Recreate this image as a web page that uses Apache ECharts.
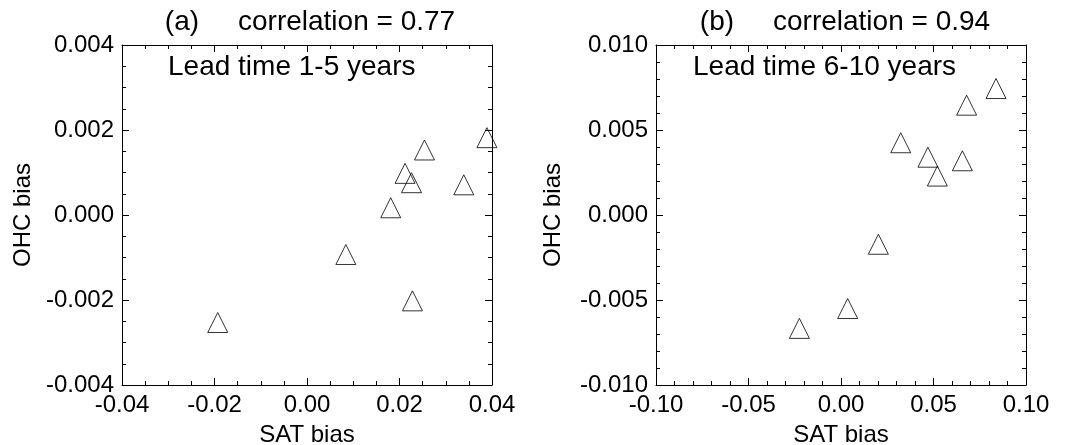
<!DOCTYPE html>
<html>
<head>
<meta charset="utf-8">
<script src="https://cdn.jsdelivr.net/npm/echarts@6/dist/echarts.min.js"></script>
<style>
  html, body { margin: 0; padding: 0; background: #fff; }
  #main { width: 1069px; height: 445px; }
</style>
</head>
<body>
<div id="main"></div>
<script>
// panel (a): lead time 1-5 years
let satA = [-0.0193, 0.0084, 0.0181, 0.0212, 0.0226, 0.0254, 0.0339, 0.0389, 0.0228];
let ohcA = [-0.00253, -0.00093, 0.00017, 0.00098, 0.00076, 0.00153, 0.00071, 0.00182, -0.00202];

// panel (b): lead time 6-10 years
let satB = [-0.0225, 0.0036, 0.0202, 0.0323, 0.0470, 0.0521, 0.0656, 0.0679, 0.0838];
let ohcB = [-0.00667, -0.00550, -0.00172, 0.00425, 0.00340, 0.00229, 0.00319, 0.00646, 0.00744];

let titles = ['(a)     correlation = 0.77', '(b)     correlation = 0.94'];
let leads = ['Lead time 1-5 years', 'Lead time 6-10 years'];

let font = 'Liberation Sans, Arial, Helvetica, sans-serif';

let pairs = (xs, ys) => xs.map((x, i) => [x, ys[i]]);

let chart = echarts.init(document.getElementById('main'));

let axisBase = function(opt) {
    let a = {
        type: 'value',
        gridIndex: opt.grid,
        position: opt.position,
        min: opt.min,
        max: opt.max,
        interval: opt.interval,
        splitLine: { show: false },
        axisLine: { show: true, onZero: false, lineStyle: { color: '#000', width: 1 } },
        axisTick: { show: true, inside: true, length: 7, lineStyle: { color: '#000' } },
        minorTick: { show: true, splitNumber: opt.minor, length: 4, lineStyle: { color: '#000' } },
        axisLabel: {
            show: !!opt.labels,
            color: '#000',
            fontSize: 24,
            fontFamily: font,
            margin: 8,
            formatter: (v) => v.toFixed(opt.digits)
        }
    };
    if (opt.name) {
        a.name = opt.name;
        a.nameLocation = 'middle';
        a.nameGap = opt.nameGap;
        a.nameTextStyle = { color: '#000', fontSize: 24, fontFamily: font };
    }
    return a;
};

let titleStyle = { fontSize: 28, fontWeight: 'normal', color: '#000', fontFamily: font };

let option = {
    animation: false,
    backgroundColor: '#fff',
    title: [
        { text: titles[0], left: 305, top: 3, textAlign: 'center', textStyle: titleStyle },
        { text: titles[1], left: 840, top: 3, textAlign: 'center', textStyle: titleStyle },
        { text: leads[0], left: 163, top: 48, textStyle: titleStyle },
        { text: leads[1], left: 688, top: 48, textStyle: titleStyle }
    ],
    grid: [
        { left: 122, top: 45, width: 370, height: 340, outerBoundsMode: 'none' },
        { left: 656, top: 45, width: 370, height: 340, outerBoundsMode: 'none' }
    ],
    xAxis: [
        axisBase({ grid: 0, position: 'bottom', min: -0.04, max: 0.04, interval: 0.02, minor: 4, labels: true, digits: 2, name: 'SAT bias', nameGap: 38 }),
        axisBase({ grid: 0, position: 'top', min: -0.04, max: 0.04, interval: 0.02, minor: 4 }),
        axisBase({ grid: 1, position: 'bottom', min: -0.1, max: 0.1, interval: 0.05, minor: 5, labels: true, digits: 2, name: 'SAT bias', nameGap: 38 }),
        axisBase({ grid: 1, position: 'top', min: -0.1, max: 0.1, interval: 0.05, minor: 5 })
    ],
    yAxis: [
        axisBase({ grid: 0, position: 'left', min: -0.004, max: 0.004, interval: 0.002, minor: 4, labels: true, digits: 3, name: 'OHC bias', nameGap: 87 }),
        axisBase({ grid: 0, position: 'right', min: -0.004, max: 0.004, interval: 0.002, minor: 4 }),
        axisBase({ grid: 1, position: 'left', min: -0.01, max: 0.01, interval: 0.005, minor: 5, labels: true, digits: 3, name: 'OHC bias', nameGap: 91 }),
        axisBase({ grid: 1, position: 'right', min: -0.01, max: 0.01, interval: 0.005, minor: 5 })
    ],
    series: [
        {
            type: 'scatter', xAxisIndex: 0, yAxisIndex: 0,
            data: pairs(satA, ohcA),
            symbol: 'triangle', symbolSize: [20, 20],
            itemStyle: { color: 'none', borderColor: '#000', borderWidth: 1 }
        },
        {
            type: 'scatter', xAxisIndex: 2, yAxisIndex: 2,
            data: pairs(satB, ohcB),
            symbol: 'triangle', symbolSize: [20, 20],
            itemStyle: { color: 'none', borderColor: '#000', borderWidth: 1 }
        }
    ]
};

chart.setOption(option);
</script>
</body>
</html>
